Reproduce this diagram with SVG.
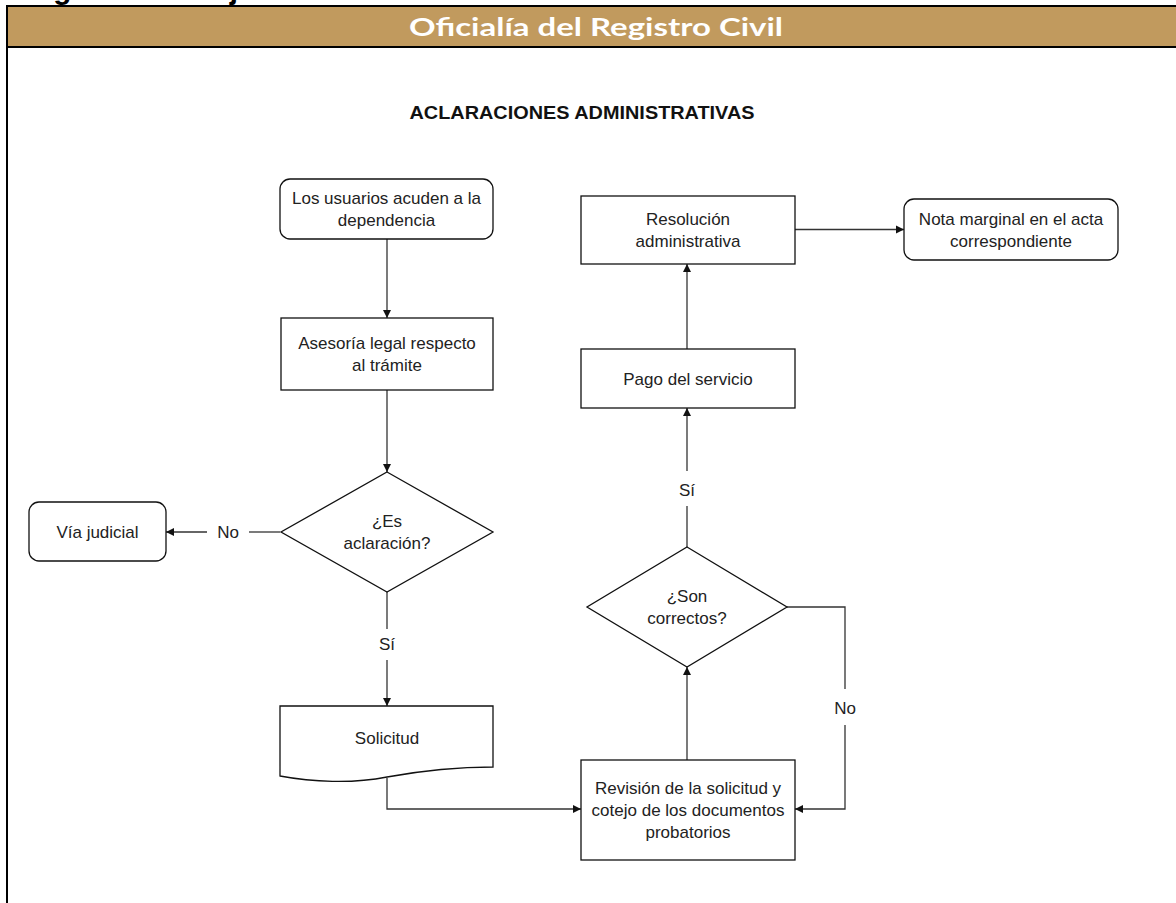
<svg xmlns="http://www.w3.org/2000/svg" width="1176" height="903" viewBox="0 0 1176 903">
<style>
.t{font-family:"Liberation Sans",Arial,sans-serif;font-size:17px;fill:#222;text-anchor:middle}
.box{fill:#fff;stroke:#111;stroke-width:1.3}
.ln{fill:none;stroke:#333;stroke-width:1.3}
</style>
<defs>
<marker id="ah" markerWidth="10" markerHeight="10" refX="9" refY="5" orient="auto" markerUnits="userSpaceOnUse">
<path d="M1,1 L9,5 L1,9 Z" fill="#111"/>
</marker>
</defs>
<rect x="0" y="0" width="1176" height="903" fill="#fff"/>
<text x="7" y="-1" font-family="Liberation Sans,Arial,sans-serif" font-weight="bold" font-size="30" fill="#000" textLength="249" lengthAdjust="spacingAndGlyphs">Diagrama de flujo</text>
<g id="frame">
<rect x="7" y="7" width="1169" height="39" fill="#C19A5E"/>
<line x1="6" y1="6" x2="1176" y2="6" stroke="#000" stroke-width="2"/>
<line x1="6" y1="47" x2="1176" y2="47" stroke="#000" stroke-width="2"/>
<line x1="7" y1="5" x2="7" y2="903" stroke="#000" stroke-width="2"/>
<text x="596" y="36" font-family="Lato,'Open Sans',sans-serif" font-weight="bold" font-size="24" fill="#fff" text-anchor="middle" textLength="374" lengthAdjust="spacingAndGlyphs">Oficialía del Registro Civil</text>
<text x="582" y="119" font-family="Liberation Sans,Arial,sans-serif" font-weight="bold" font-size="19" fill="#111" text-anchor="middle" textLength="345" lengthAdjust="spacingAndGlyphs">ACLARACIONES ADMINISTRATIVAS</text>
</g>
<g id="connectors">
<path class="ln" d="M387,239 V318" marker-end="url(#ah)"/>
<path class="ln" d="M387,390 V472" marker-end="url(#ah)"/>
<path class="ln" d="M280,532 H249"/>
<path class="ln" d="M207,532 H166" marker-end="url(#ah)"/>
<text class="t" x="228" y="538">No</text>
<path class="ln" d="M387,592 V629"/>
<path class="ln" d="M387,660 V706" marker-end="url(#ah)"/>
<text class="t" x="387" y="650">Sí</text>
<path class="ln" d="M387,778 V809 H581" marker-end="url(#ah)"/>
<path class="ln" d="M687,760 V667" marker-end="url(#ah)"/>
<path class="ln" d="M787,607 H845 V689"/>
<path class="ln" d="M845,725 V809 H795" marker-end="url(#ah)"/>
<text class="t" x="845" y="714">No</text>
<path class="ln" d="M687,547 V506"/>
<path class="ln" d="M687,471 V408" marker-end="url(#ah)"/>
<text class="t" x="687" y="496">Sí</text>
<path class="ln" d="M687,349 V264" marker-end="url(#ah)"/>
<path class="ln" d="M795,229.5 H904" marker-end="url(#ah)"/>
</g>
<g id="n1">
<rect class="box" x="280" y="179" width="213" height="60" rx="10"/>
<text class="t" x="386.5" y="204">Los usuarios acuden a la</text>
<text class="t" x="386.5" y="226">dependencia</text>
</g>
<g id="n2">
<rect class="box" x="281" y="318" width="212" height="72"/>
<text class="t" x="387" y="349">Asesoría legal respecto</text>
<text class="t" x="387" y="371">al trámite</text>
</g>
<g id="d1">
<path class="box" d="M387,472 L493,532 L387,592 L281,532 Z"/>
<text class="t" x="387" y="527">¿Es</text>
<text class="t" x="387" y="549">aclaración?</text>
</g>
<g id="n3">
<rect class="box" x="29" y="502" width="137" height="59" rx="10"/>
<text class="t" x="97.5" y="538">Vía judicial</text>
</g>
<g id="n4">
<path class="box" d="M280,706 H493 V767 C450,767 420,771 387,777 C352,784 312,782 280,776 Z"/>
<text class="t" x="387" y="744">Solicitud</text>
</g>
<g id="n5">
<rect class="box" x="581" y="760" width="214" height="100"/>
<text class="t" x="688" y="794">Revisión de la solicitud y</text>
<text class="t" x="688" y="816">cotejo de los documentos</text>
<text class="t" x="688" y="838">probatorios</text>
</g>
<g id="d2">
<path class="box" d="M687,547 L787,607 L687,667 L587,607 Z"/>
<text class="t" x="687" y="602">¿Son</text>
<text class="t" x="687" y="624">correctos?</text>
</g>
<g id="n6">
<rect class="box" x="581" y="349" width="214" height="59"/>
<text class="t" x="688" y="385">Pago del servicio</text>
</g>
<g id="n7">
<rect class="box" x="581" y="196" width="214" height="68"/>
<text class="t" x="688" y="225">Resolución</text>
<text class="t" x="688" y="247">administrativa</text>
</g>
<g id="n8">
<rect class="box" x="904" y="199" width="214" height="61" rx="10"/>
<text class="t" x="1011" y="225">Nota marginal en el acta</text>
<text class="t" x="1011" y="247">correspondiente</text>
</g>
</svg>
